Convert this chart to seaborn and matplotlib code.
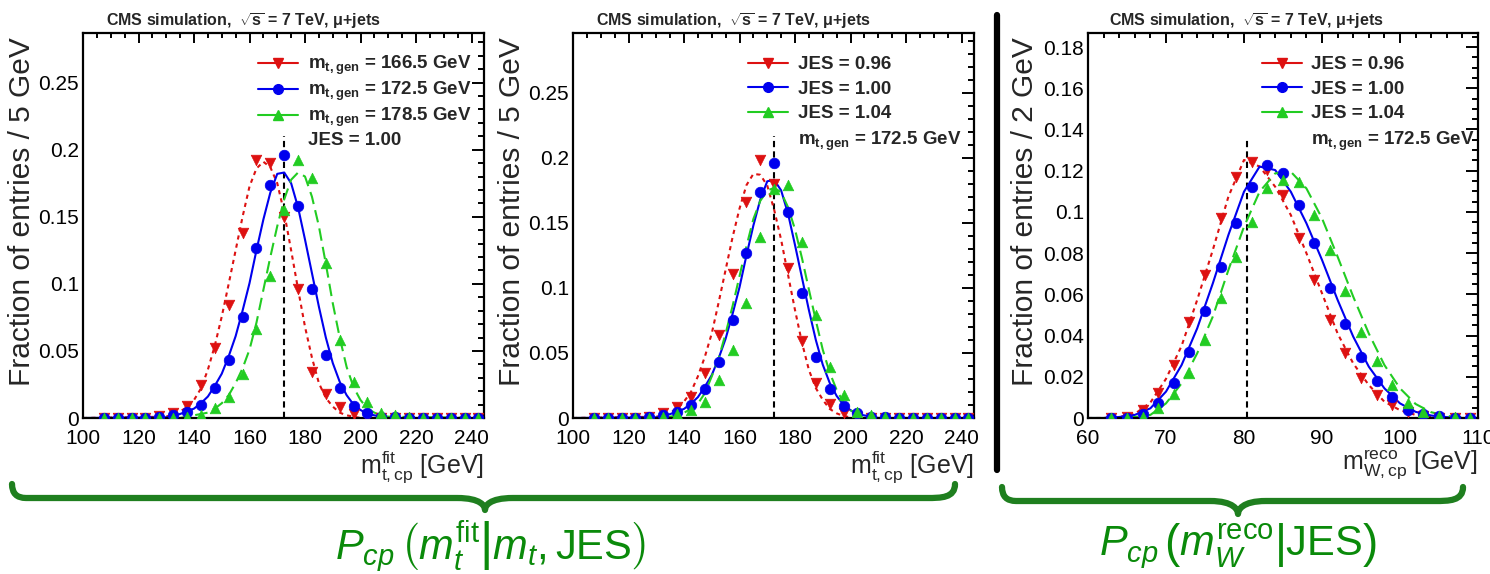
import matplotlib
matplotlib.use("Agg")
import matplotlib.pyplot as plt
import seaborn as sns
import numpy as np
from matplotlib.lines import Line2D
from matplotlib.path import Path
from matplotlib.patches import PathPatch
from matplotlib.ticker import MultipleLocator, FuncFormatter

# ---------------- data ----------------
# top-mass panels: 5 GeV bins
mt_bins = [107.5, 112.5, 117.5, 122.5, 127.5, 132.5, 137.5, 142.5, 147.5, 152.5,
           157.5, 162.5, 167.5, 172.5, 177.5, 182.5, 187.5, 192.5, 197.5, 202.5,
           207.5, 212.5, 217.5, 222.5, 227.5, 232.5, 237.5, 242.5]
# left panel: m_t,gen variations (JES = 1.00)
mt1665_pts = [0, 0, 0, 0.0003, 0.0015, 0.004, 0.009, 0.0246, 0.052, 0.084, 0.138, 0.1925,
              0.190, 0.150, 0.096, 0.0346, 0.018, 0.0085, 0.003, 0.001, 0, 0, 0, 0, 0, 0, 0, 0]
mt1725_pts = [0, 0, 0, 0, 0.0005, 0.002, 0.0047, 0.0097, 0.022, 0.043, 0.0756, 0.1266,
              0.174, 0.196, 0.158, 0.096, 0.047, 0.022, 0.009, 0.0035, 0.001, 0.0005, 0, 0, 0, 0, 0, 0]
mt1785_pts = [0, 0, 0, 0, 0, 0.0003, 0.0008, 0.002, 0.0075, 0.0155, 0.033, 0.066, 0.1055,
              0.155, 0.1925, 0.179, 0.1154, 0.058, 0.0265, 0.012, 0.0037, 0.002, 0.0005, 0, 0, 0, 0, 0]
# middle panel: JES variations (m_t,gen = 172.5)
jes096_mt_pts = [0, 0, 0, 0.0003, 0.001, 0.0036, 0.0087, 0.0165, 0.0345, 0.064, 0.111, 0.166,
                 0.198, 0.180, 0.115, 0.059, 0.0268, 0.0108, 0.004, 0.001, 0, 0, 0, 0, 0, 0, 0, 0]
jes100_mt_pts = mt1725_pts
jes104_mt_pts = [0, 0, 0, 0, 0, 0.0005, 0.003, 0.006, 0.0126, 0.029, 0.052, 0.0885, 0.139,
                 0.176, 0.179, 0.135, 0.0795, 0.039, 0.0178, 0.0045, 0.0023, 0.001, 0.0003, 0, 0, 0, 0, 0]

# fitted curves, read at 2.5 GeV steps
mt_fit_x = [100, 130, 132.5, 135, 137.5, 140, 142.5, 145, 147.5, 150, 152.5, 155, 157.5, 160,
            162.5, 165, 167.5, 170, 172.5, 175, 177.5, 180, 182.5, 185, 187.5, 190, 192.5,
            195, 197.5, 200, 202.5, 205, 207.5, 210, 245]
mt1665_fit = [0, 0.001, 0.003, 0.005, 0.008, 0.0134, 0.022, 0.036, 0.054, 0.0756, 0.100, 0.125,
              0.150, 0.1726, 0.186, 0.191, 0.187, 0.175, 0.153, 0.125, 0.096, 0.068, 0.045,
              0.026, 0.015, 0.0085, 0.004, 0.002, 0.001, 0, 0, 0, 0, 0, 0]
mt1725_fit = [0, 0.0005, 0.0015, 0.003, 0.005, 0.007, 0.011, 0.016, 0.024, 0.033, 0.046, 0.061,
              0.080, 0.1005, 0.125, 0.148, 0.168, 0.182, 0.183, 0.175, 0.157, 0.133, 0.108,
              0.083, 0.060, 0.041, 0.027, 0.017, 0.010, 0.006, 0.003, 0.002, 0.001, 0, 0]
mt1785_fit = [0, 0, 0, 0, 0.001, 0.002, 0.003, 0.004, 0.007, 0.011, 0.017, 0.026, 0.037, 0.051,
              0.071, 0.0955, 0.120, 0.143, 0.163, 0.1776, 0.183, 0.180, 0.165, 0.143, 0.115,
              0.0856, 0.060, 0.038, 0.023, 0.0134, 0.007, 0.004, 0.002, 0.001, 0]
jes096_mt_fit = [0, 0.001, 0.002, 0.004, 0.007, 0.0126, 0.020, 0.032, 0.047, 0.065, 0.089, 0.114,
                 0.139, 0.161, 0.179, 0.1877, 0.187, 0.1787, 0.160, 0.137, 0.110, 0.083, 0.058,
                 0.037, 0.023, 0.014, 0.007, 0.0036, 0.0015, 0.0005, 0, 0, 0, 0, 0]
jes100_mt_fit = mt1725_fit
jes104_mt_fit = [0, 0, 0, 0.001, 0.002, 0.004, 0.007, 0.011, 0.019, 0.032, 0.046, 0.065, 0.086,
                 0.109, 0.132, 0.153, 0.167, 0.1748, 0.177, 0.1735, 0.162, 0.145, 0.123, 0.0988,
                 0.075, 0.0525, 0.035, 0.0216, 0.012, 0.006, 0.003, 0.0015, 0.0005, 0, 0]

# W-mass panel: 2 GeV bins
mw_bins = [63, 65, 67, 69, 71, 73, 75, 77, 79, 81, 83, 85, 87, 89, 91, 93, 95, 97, 99,
           101, 103, 105, 107, 109]
jes096_w_pts = [0, 0.0003, 0.0039, 0.012, 0.0257, 0.0467, 0.0694, 0.0969, 0.117, 0.1244, 0.1205,
                0.108, 0.0872, 0.067, 0.0476, 0.0314, 0.0193, 0.0112, 0.0063, 0.003, 0.001, 0, 0, 0]
jes100_w_pts = [0, 0, 0.002, 0.0074, 0.0168, 0.032, 0.052, 0.0734, 0.0945, 0.1122, 0.1228,
                0.1187, 0.1033, 0.085, 0.063, 0.0456, 0.0298, 0.0181, 0.010, 0.0039, 0.0019,
                0.0008, 0, 0]
jes104_w_pts = [0, 0, 0.0006, 0.0047, 0.0116, 0.0217, 0.0378, 0.058, 0.0783, 0.0953, 0.1114,
                0.1155, 0.1147, 0.0985, 0.0815, 0.0618, 0.0419, 0.0278, 0.016, 0.0071, 0.003,
                0.0008, 0.0003, 0]
mw_fit_x = [60, 62, 64, 66, 68, 70, 72, 74, 76, 78, 80, 82, 84, 86, 88, 90, 92, 94, 96, 98,
            100, 102, 104, 106, 108, 110]
jes096_w_fit = [0, 0, 0.0005, 0.002, 0.0075, 0.019, 0.035, 0.0573, 0.0815, 0.1074, 0.1252,
                0.122, 0.1122, 0.0985, 0.080, 0.0605, 0.041, 0.0265, 0.016, 0.0079, 0.0038,
                0.0015, 0.0005, 0, 0, 0]
jes100_w_fit = [0, 0, 0.0005, 0.0015, 0.0047, 0.0128, 0.0257, 0.0435, 0.0653, 0.0888, 0.1098,
                0.122, 0.1203, 0.1098, 0.0945, 0.0767, 0.0573, 0.0395, 0.0249, 0.0144, 0.0071,
                0.003, 0.0012, 0.0004, 0, 0]
jes104_w_fit = [0, 0, 0, 0.0005, 0.0015, 0.0071, 0.0168, 0.0314, 0.0492, 0.0718, 0.0928, 0.1098,
                0.1187, 0.1195, 0.1114, 0.0969, 0.0783, 0.0589, 0.041, 0.0257, 0.0144, 0.0068,
                0.0028, 0.001, 0.0003, 0]

mt_labels = [r"$\mathbf{m_{t,gen}}$ = 166.5 GeV", r"$\mathbf{m_{t,gen}}$ = 172.5 GeV",
             r"$\mathbf{m_{t,gen}}$ = 178.5 GeV", "JES = 1.00"]
jes_labels = ["JES = 0.96", "JES = 1.00", "JES = 1.04", r"$\mathbf{m_{t,gen}}$ = 172.5 GeV"]
title_text = r"CMS simulation,  $\sqrt{\mathbf{s}}$ = 7 TeV, $\mathbf{\mu}$+jets"
mt_ref, mt_ref_top = 172.5, (0.21, 0.217)
mw_ref, mw_ref_top = 80.4, 0.1365

# ---------------- style ----------------
sns.set_theme(style="white")
plt.rcParams["font.family"] = ["Liberation Sans", "DejaVu Sans"]
plt.rcParams["mathtext.fontset"] = "custom"
plt.rcParams["mathtext.rm"] = "Liberation Sans"
plt.rcParams["mathtext.it"] = "Liberation Sans:italic"
plt.rcParams["mathtext.bf"] = "Liberation Sans:bold"
plt.rcParams["mathtext.sf"] = "Liberation Sans"

RED, BLUE, GREEN = "#dd1111", "#0000ee", "#22cc22"
styles = [dict(color=RED, marker="v", ls=(0, (2, 2))),
          dict(color=BLUE, marker="o", ls="-"),
          dict(color=GREEN, marker="^", ls=(0, (6, 3)))]

W, H = 1490, 574
fig = plt.figure(figsize=(W / 100, H / 100), dpi=100)


def ax_at(x0, x1, ytop=33, ybot=418):
    return fig.add_axes([x0 / W, 1 - ybot / H, (x1 - x0) / W, (ybot - ytop) / H])


fmt = FuncFormatter(lambda v, p: "%g" % round(v, 4))


def panel(ax, bins, pts, fitx, fits, labels, xlim, ylim, xmaj, xmin, ymaj, ymin,
          ylabel, xlabel, ylab_x, legx, legy, legsp, title_x, vline, vtop):
    for p, f, st in zip(pts, fits, styles):
        sns.lineplot(x=fitx, y=f, ax=ax, color=st["color"], linestyle=st["ls"], lw=1.5,
                     zorder=2)
    for p, f, st in zip(pts, fits, styles):
        sns.scatterplot(x=bins, y=p, ax=ax, color=st["color"], marker=st["marker"], s=58,
                        edgecolor=st["color"], linewidth=0.5, zorder=3)
    ax.vlines(vline, 0, vtop, colors="black", linestyles=(0, (3, 2)), lw=1.5, zorder=1)
    ax.set_xlim(*xlim)
    ax.set_ylim(*ylim)
    ax.xaxis.set_major_locator(MultipleLocator(xmaj))
    ax.xaxis.set_minor_locator(MultipleLocator(xmin))
    ax.yaxis.set_major_locator(MultipleLocator(ymaj))
    ax.yaxis.set_minor_locator(MultipleLocator(ymin))
    ax.xaxis.set_major_formatter(fmt)
    ax.yaxis.set_major_formatter(fmt)
    ax.tick_params(axis="both", which="both", direction="in", top=True, right=True,
                   labelsize=15, width=1.4, colors="black", pad=3)
    ax.tick_params(axis="x", which="major", length=7, pad=8)
    ax.tick_params(axis="x", which="minor", length=3.5)
    ax.tick_params(axis="y", which="major", length=9)
    ax.tick_params(axis="y", which="minor", length=4.5)
    for s in ax.spines.values():
        s.set_linewidth(1.6)
        s.set_color("black")
    ax.set_xlabel("")
    ax.set_ylabel("")
    ax.text(ylab_x, 0.99, ylabel, transform=ax.transAxes, rotation=90, ha="center",
            va="top", fontsize=21.5)
    ax.text(1.0, -0.08, xlabel, transform=ax.transAxes, ha="right", va="top", fontsize=18)
    ax.text(title_x, 1.03, title_text, transform=ax.transAxes, ha="center", va="center",
            fontsize=11.5, fontweight="bold")
    handles = [Line2D([], [], color=st["color"], marker=st["marker"], ls="-", lw=1.5,
                      markersize=7) for st in styles]
    handles.append(Line2D([], [], color="none"))
    ax.legend(handles, labels, loc="upper left", bbox_to_anchor=(legx, legy),
              frameon=False, prop={"weight": "bold", "size": 13.5}, handlelength=2.15,
              handletextpad=0.5, labelspacing=legsp, borderaxespad=0, borderpad=0)


ax1 = ax_at(83, 484)
panel(ax1, mt_bins, [mt1665_pts, mt1725_pts, mt1785_pts], mt_fit_x,
      [mt1665_fit, mt1725_fit, mt1785_fit], mt_labels, (100, 244.5), (0, 0.287),
      20, 5, 0.05, 0.01, "Fraction of entries / 5 GeV",
      r"$\mathrm{m}^{\mathrm{fit}}_{\mathrm{t,cp}}$ [GeV]", -0.152, 0.436, 0.945, 0.15, 0.40,
      mt_ref, mt_ref_top[0])

ax2 = ax_at(573, 974)
panel(ax2, mt_bins, [jes096_mt_pts, jes100_mt_pts, jes104_mt_pts], mt_fit_x,
      [jes096_mt_fit, jes100_mt_fit, jes104_mt_fit], jes_labels, (100, 244.5), (0, 0.296),
      20, 5, 0.05, 0.01, "Fraction of entries / 5 GeV",
      r"$\mathrm{m}^{\mathrm{fit}}_{\mathrm{t,cp}}$ [GeV]", -0.152, 0.436, 0.94, 0.4, 0.40,
      mt_ref, mt_ref_top[1])

ax3 = ax_at(1088, 1478)
panel(ax3, mw_bins, [jes096_w_pts, jes100_w_pts, jes104_w_pts], mw_fit_x,
      [jes096_w_fit, jes100_w_fit, jes104_w_fit], jes_labels, (60, 110), (0, 0.1868),
      10, 2, 0.02, 0.005, "Fraction of entries / 2 GeV",
      r"$\mathrm{m}^{\mathrm{reco}}_{\mathrm{W,cp}}$ [GeV]", -0.162, 0.445, 0.94, 0.4, 0.406,
      mw_ref, mw_ref_top)

# separator bar
fig.add_artist(Line2D([997 / W, 997 / W], [1 - 15 / H, 1 - 470 / H], color="black", lw=4.5))

# braces
BR_GREEN = "#1f7f1f"


def brace(x0, x1, xc, ytop, ymid, ybot):
    r = 14
    X = lambda v: v / W
    Y = lambda v: 1 - v / H
    verts = [(x0, ytop), (x0, ymid), (x0 + r, ymid), (x0 + 2 * r, ymid),
             (xc - 2 * r, ymid), (xc - 4, ymid), (xc, ybot - 4), (xc, ybot),
             (xc, ybot - 4), (xc + 4, ymid), (xc + 2 * r, ymid),
             (x1 - 2 * r, ymid), (x1 - r, ymid), (x1, ymid), (x1, ytop)]
    codes = [Path.MOVETO, Path.CURVE3, Path.CURVE3, Path.LINETO,
             Path.LINETO, Path.CURVE4, Path.CURVE4, Path.CURVE4,
             Path.CURVE4, Path.CURVE4, Path.CURVE4,
             Path.LINETO, Path.CURVE4, Path.CURVE4, Path.CURVE4]
    verts = [(X(a), Y(b)) for a, b in verts]
    patch = PathPatch(Path(verts, codes), fill=False, edgecolor=BR_GREEN, lw=4.5,
                      transform=fig.transFigure, capstyle="round", joinstyle="round")
    fig.add_artist(patch)


brace(12, 955, 485, 484, 498, 510)
brace(1002, 1463, 1238, 487, 501, 514)

fig.text(490 / W, 1 - 546 / H,
         r"$P_{cp}\,\left(\left.m_t^{\mathrm{fit}}\right|m_t,\mathrm{JES}\right)$",
         color="#0a8a0a", fontsize=30, ha="center", va="center")
fig.text(1238 / W, 1 - 546 / H,
         r"$P_{cp}\,\left(\left.m_W^{\mathrm{reco}}\right|\mathrm{JES}\right)$",
         color="#0a8a0a", fontsize=30, ha="center", va="center")

fig.savefig("out.png", dpi=100)
